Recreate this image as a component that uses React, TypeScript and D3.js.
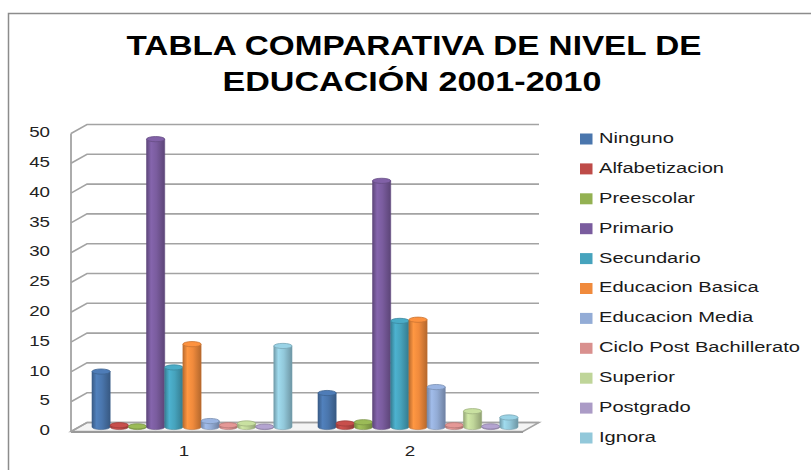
import * as d3 from "d3";

// categorias del eje x
const categorias = ["1", "2"];

// niveles de educacion (series)
const niveles = [
  "Ninguno",
  "Alfabetizacion",
  "Preescolar",
  "Primario",
  "Secundario",
  "Educacion Basica",
  "Educacion Media",
  "Ciclo Post Bachillerato",
  "Superior",
  "Postgrado",
  "Ignora",
];

// valores, uno por nivel
const valoresGrupo1 = [9.3, 0.3, 0.1, 48.3, 10.0, 13.9, 1.0, 0.3, 0.6, 0.05, 13.6];
const valoresGrupo2 = [5.7, 0.6, 0.8, 41.3, 17.8, 18.0, 6.7, 0.3, 2.65, 0.1, 1.6];

const ticksY = [0, 5, 10, 15, 20, 25, 30, 35, 40, 45, 50];

const colores = [
  "#4a76ad", "#be4b48", "#93b152", "#7a5c9e", "#46a3bd", "#f08a3c",
  "#93acd6", "#d9908e", "#bfd599", "#ab9bc6", "#92c8da",
];

const W = 811;
const H = 470;
// geometria 3d
const depthX = 16;
const depthY = -9;
const left = 71;
const right = 523;
const sx = 1.34; // estiramiento horizontal del texto

export default function App() {
  const valores = [valoresGrupo1, valoresGrupo2];

  const y = d3.scaleLinear().domain([0, 50]).range([431.5, 133.5]);
  const x = d3.scaleBand().domain(categorias).range([left, right]);
  const xs = d3.scaleBand().domain(niveles).range([-100, 100]).padding(0);

  const midX = depthX / 2;
  const midY = depthY / 2;
  const bw = xs.bandwidth();
  const rx = bw / 2;
  const ry = 2.6;

  const grid = "#a3a3a3";

  return (
    <svg
      width={W}
      height={H}
      style={{ position: "absolute", left: 0, top: 0, background: "#fff" }}
      fontFamily="'Liberation Sans', Arial, sans-serif"
    >
      <defs>
        {colores.map((c, i) => {
          const base = d3.color(c)!;
          return (
            <linearGradient key={i} id={`cil${i}`} x1="0" x2="1" y1="0" y2="0">
              <stop offset="0%" stopColor={base.darker(0.7).formatHex()} />
              <stop offset="25%" stopColor={base.brighter(0.25).formatHex()} />
              <stop offset="55%" stopColor={base.formatHex()} />
              <stop offset="100%" stopColor={base.darker(0.8).formatHex()} />
            </linearGradient>
          );
        })}
      </defs>

      <rect x={8.5} y={13.5} width={900} height={600} fill="#fff" stroke="#8c8c8c" strokeWidth={1.5} />

      <text x={414} y={55} textAnchor="middle" fontWeight="bold" fontSize={28}
        textLength={575} lengthAdjust="spacingAndGlyphs" fill="#000">
        TABLA COMPARATIVA DE NIVEL DE
      </text>
      <text x={412} y={91} textAnchor="middle" fontWeight="bold" fontSize={28}
        textLength={379} lengthAdjust="spacingAndGlyphs" fill="#000">
        EDUCACIÓN 2001-2010
      </text>

      {/* piso */}
      <path
        d={`M${left},${y(0)} L${right},${y(0)} L${right + depthX},${y(0) + depthY} L${left + depthX},${y(0) + depthY} Z`}
        fill="#f4f4f4"
        stroke={grid}
        strokeWidth={1.5}
      />
      <line x1={left} x2={right} y1={y(0) + 0.5} y2={y(0) + 0.5} stroke="#999" strokeWidth={2} />

      {/* pared: lineas de cuadricula */}
      {ticksY.map((t) => (
        <g key={t}>
          <polyline
            points={`${left},${y(t)} ${left + depthX},${y(t) + depthY} ${right + depthX},${y(t) + depthY}`}
            fill="none"
            stroke={grid}
            strokeWidth={1.6}
          />
          <text
            transform={`translate(50,${y(t)}) scale(${sx},1)`}
            textAnchor="end"
            dominantBaseline="middle"
            fontSize={14}
            fill="#222"
          >
            {t}
          </text>
        </g>
      ))}
      <line x1={left} x2={left} y1={y(50)} y2={y(0)} stroke={grid} strokeWidth={1.8} />

      {/* cilindros */}
      {categorias.map((cat, ci) => (
        <g key={cat} transform={`translate(${x(cat)! + x.bandwidth() / 2 + midX},${midY})`}>
          {niveles.map((n, i) => {
            const v = valores[ci][i];
            const x0 = xs(n)!;
            const yb = y(0);
            const yt = y(v);
            const base = d3.color(colores[i])!;
            return (
              <g key={n}>
                <path
                  d={`M${x0},${yt} L${x0},${yb} A${rx},${ry} 0 0 0 ${x0 + bw},${yb} L${x0 + bw},${yt} Z`}
                  fill={`url(#cil${i})`}
                  stroke={base.darker(0.6).formatHex()}
                  strokeWidth={0.6}
                />
                <ellipse
                  cx={x0 + rx}
                  cy={yt}
                  rx={rx}
                  ry={ry}
                  fill={base.brighter(0.15).formatHex()}
                  stroke={base.darker(0.5).formatHex()}
                  strokeWidth={0.8}
                />
              </g>
            );
          })}
        </g>
      ))}

      {/* etiquetas del eje x */}
      {categorias.map((cat) => (
        <text
          key={cat}
          transform={`translate(${x(cat)! + x.bandwidth() / 2},452) scale(${sx},1)`}
          textAnchor="middle"
          dominantBaseline="middle"
          fontSize={14}
          fill="#222"
        >
          {cat}
        </text>
      ))}

      {/* leyenda */}
      {niveles.map((n, i) => {
        const ly = 139 + i * 29.9;
        return (
          <g key={n}>
            <rect x={580} y={ly - 5.5} width={12.5} height={11} fill={colores[i]} />
            <text
              transform={`translate(599,${ly}) scale(${sx},1)`}
              dominantBaseline="middle"
              fontSize={15}
              fill="#1a1a1a"
            >
              {n}
            </text>
          </g>
        );
      })}
    </svg>
  );
}
